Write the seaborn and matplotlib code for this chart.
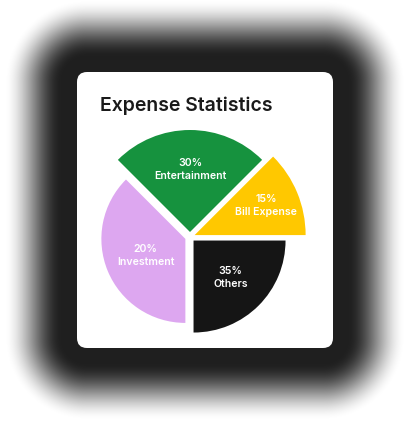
import numpy as np
import matplotlib.pyplot as plt
import seaborn as sns
from matplotlib.patches import FancyBboxPatch

# slices in drawing order (counter-clockwise from 3 o'clock)
categories = ["Bill Expense", "Entertainment", "Investment", "Others"]
percents = [15, 30, 20, 35]
arc_share = [45, 90, 135, 90]          # angular span of each slice as drawn
slice_radius = [111, 102, 84, 92]      # each slice has its own radius (px)
colors = ["#FFC800", "#16923E", "#DDA7F0", "#151515"]
label_dist = [0.70, 0.61, 0.51, 0.57]

W, H = 410, 430
card = (77, 72, 333, 348)  # left, top, right, bottom in image px


def Y(y):
    return H - y


sns.set_theme(style="white")
plt.rcParams['font.family'] = ['Inter', 'DejaVu Sans']

fig = plt.figure(figsize=(W / 100, H / 100), dpi=100)
fig.patch.set_facecolor("white")
ax = fig.add_axes([0, 0, 1, 1])

# soft shadow around the card
xs, ys = np.meshgrid(np.arange(W) + 0.5, np.arange(H) + 0.5)
l, t, r, b = card
cx, cy = (l + r) / 2, (t + b) / 2
hw, hh, rr = (r - l) / 2, (b - t) / 2, 10
qx = np.abs(xs - cx) - hw + rr
qy = np.abs(ys - cy) - hh + rr
dist = np.hypot(np.maximum(qx, 0), np.maximum(qy, 0)) + np.minimum(np.maximum(qx, qy), 0) - rr
s = np.clip((dist - 15) / 58, 0, 1)
alpha = 0.88 * (1 - s * s * (3 - 2 * s))
shadow = np.zeros((H, W, 4))
shadow[..., 3] = alpha
ax.imshow(shadow, extent=[0, W, 0, H], origin='upper', zorder=0, interpolation='bilinear')

ax.add_patch(FancyBboxPatch((l, Y(b)), r - l, b - t,
                            boxstyle="round,pad=0,rounding_size=10",
                            facecolor="white", edgecolor="none", zorder=1))

ax.text(100, Y(111), "Expense Statistics", fontsize=14, fontweight='semibold',
        color="#1A1A1A", ha='left', va='baseline', zorder=3)

# pie
center = (190, Y(237))
wedges, _ = ax.pie(arc_share, colors=colors, startangle=0, counterclock=True,
                   radius=100, center=center, explode=[5] * len(arc_share),
                   wedgeprops=dict(linewidth=0), frame=True)
ax.set_xlim(0, W)
ax.set_ylim(0, H)
ax.set_aspect('equal')
ax.axis('off')

for w, rad, cat, pct, ld in zip(wedges, slice_radius, categories, percents, label_dist):
    w.set_radius(rad)
    w.set_zorder(2)
    mid = np.deg2rad((w.theta1 + w.theta2) / 2)
    wx, wy = w.center
    tx = wx + ld * rad * np.cos(mid)
    ty = wy + ld * rad * np.sin(mid)
    ax.text(tx, ty, f"{pct}%\n{cat}", ha='center', va='center', color="white",
            fontsize=7.6, fontweight='semibold', linespacing=1.35, zorder=3)

fig.savefig("out.png", dpi=100, facecolor="white")
